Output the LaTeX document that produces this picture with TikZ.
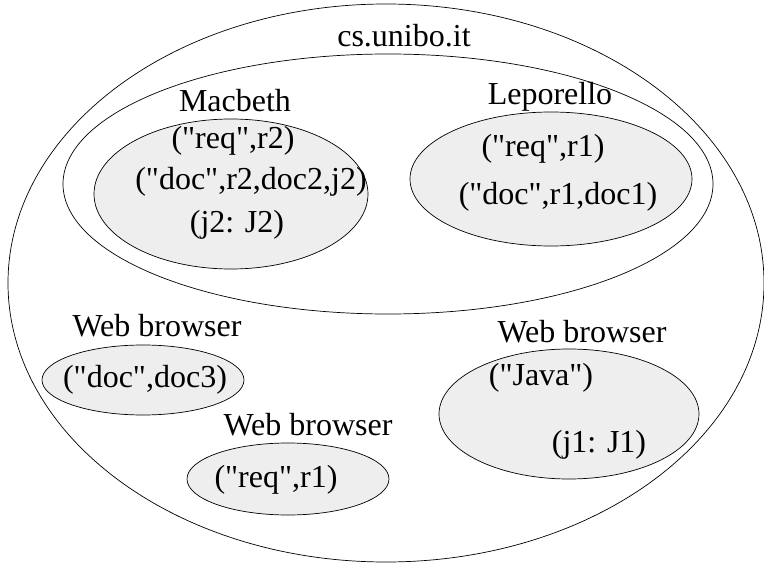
\documentclass[tikz,border=0pt]{standalone}
\usepackage{fontspec}
\setmainfont{Liberation Serif}[Ligatures=TeXOff]
\usetikzlibrary{shapes.geometric}
\begin{document}
\begin{tikzpicture}[x=1pt,y=-1pt,
  region/.style={draw=black, line width=0.7pt, ellipse, inner sep=0pt},
  proc/.style={region, fill=gray!13},
  lbl/.style={inner sep=0pt, anchor=base, font=\fontsize{32}{38}\selectfont}]
\useasboundingbox (0,0) rectangle (764,567);
% outer and inner regions
\node[region, minimum width=756pt, minimum height=558pt] (dom) at (386,283) {};
\node[region, minimum width=650pt, minimum height=260pt] (site) at (388,184) {};
\node[proc, minimum width=274pt, minimum height=150pt] (macb) at (231,194) {};
\node[proc, minimum width=282pt, minimum height=134pt] (lepo) at (551,179) {};
\node[proc, minimum width=202pt, minimum height=70pt] (wb1) at (143,380) {};
\node[proc, minimum width=202pt, minimum height=72pt] (wb2) at (288,479) {};
\node[proc, minimum width=260pt, minimum height=130pt] (wb3) at (569,414) {};
% labels
\node[lbl] (tdom) at (404,47) {cs.unibo.it};
\node[lbl] (tmacb) at (235,112) {Macbeth};
\node[lbl] (tlepo) at (550,105) {Leporello};
\node[lbl] (m1) at (233,149) {("req",r2)};
\node[lbl] (m2) at (251,190) {("doc",r2,doc2,j2)};
\node[lbl] (m3) at (237,233) {(j2: J2)};
\node[lbl] (l1) at (543,157) {("req",r1)};
\node[lbl] (l2) at (558,205) {("doc",r1,doc1)};
\node[lbl] (twb1) at (157,336) {Web browser};
\node[lbl] (w1) at (145,387) {("doc",doc3)};
\node[lbl] (twb2) at (308,435) {Web browser};
\node[lbl] (w2) at (276,487) {("req",r1)};
\node[lbl] (twb3) at (582,342) {Web browser};
\node[lbl] (w3a) at (541,385) {("Java")};
\node[lbl] (w3b) at (599,452) {(j1: J1)};
\end{tikzpicture}
\end{document}
